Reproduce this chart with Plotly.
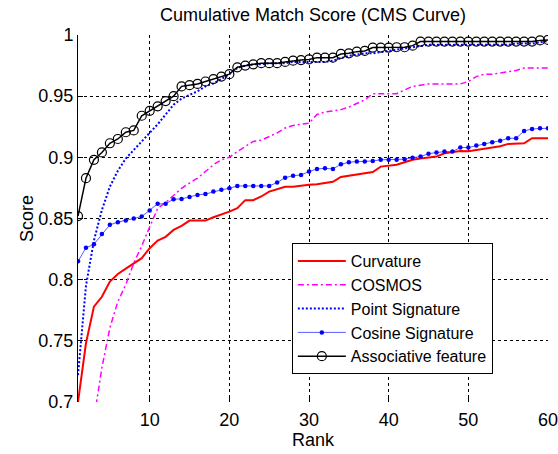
import plotly.graph_objects as go

rank = list(range(1, 61))

curvature = [0.700, 0.748, 0.778, 0.786, 0.7985, 0.8047, 0.809, 0.8135, 0.8176, 0.8257,
             0.832, 0.835, 0.8407, 0.844, 0.8483, 0.8483, 0.8483, 0.851, 0.853, 0.8556,
             0.8584, 0.865, 0.865, 0.868, 0.872, 0.874, 0.876, 0.876, 0.877, 0.8775,
             0.878, 0.879, 0.880, 0.884, 0.885, 0.886, 0.887, 0.888, 0.8924, 0.893,
             0.894, 0.896, 0.898, 0.899, 0.900, 0.9006, 0.9033, 0.904, 0.9052, 0.905,
             0.906, 0.9074, 0.908, 0.909, 0.911, 0.911, 0.9115, 0.9156, 0.9156, 0.9156]

cosmos_rank = list(range(3, 61))
cosmos = [0.686, 0.728, 0.7606, 0.782, 0.796, 0.8135, 0.8276, 0.843,
          0.8584, 0.863, 0.869, 0.8747, 0.879, 0.883, 0.8884, 0.894, 0.898, 0.900,
          0.9047, 0.909, 0.913, 0.914, 0.917, 0.920, 0.924, 0.926, 0.927, 0.928,
          0.935, 0.937, 0.938, 0.939, 0.941, 0.944, 0.947, 0.952, 0.952, 0.952,
          0.952, 0.955, 0.958, 0.959, 0.960, 0.960, 0.960, 0.960, 0.960, 0.962,
          0.966, 0.968, 0.968, 0.969, 0.970, 0.971, 0.973, 0.973, 0.973, 0.973]

point_sig = [0.722, 0.795, 0.832, 0.857, 0.876, 0.889, 0.899, 0.906, 0.913, 0.920,
             0.927, 0.935, 0.943, 0.948, 0.951, 0.954, 0.958, 0.9605, 0.964, 0.968,
             0.973, 0.975, 0.976, 0.976, 0.977, 0.977, 0.977, 0.978, 0.978, 0.978,
             0.978, 0.978, 0.979, 0.981, 0.983, 0.984, 0.985, 0.985, 0.986, 0.987,
             0.988, 0.989, 0.990, 0.991, 0.992, 0.992, 0.992, 0.992, 0.992, 0.992,
             0.992, 0.992, 0.992, 0.992, 0.992, 0.993, 0.993, 0.993, 0.994, 0.995]

cosine_sig = [0.815, 0.826, 0.829, 0.8374, 0.8448, 0.847, 0.8483, 0.850, 0.8516, 0.8565,
              0.862, 0.862, 0.8658, 0.866, 0.8676, 0.8693, 0.870, 0.872, 0.8734, 0.8747,
              0.8766, 0.8766, 0.8766, 0.8766, 0.8766, 0.8794, 0.8834, 0.885, 0.8856, 0.8884,
              0.8905, 0.891, 0.8905, 0.8943, 0.896, 0.8965, 0.8965, 0.897, 0.898, 0.898,
              0.898, 0.8985, 0.8997, 0.9006, 0.903, 0.904, 0.9047, 0.9047, 0.908, 0.908,
              0.9096, 0.911, 0.9124, 0.9135, 0.9156, 0.9156, 0.9216, 0.9232, 0.9238, 0.9238]

associative = [0.852, 0.883, 0.898, 0.904, 0.9115, 0.915, 0.9205, 0.922, 0.934, 0.938,
               0.9417, 0.946, 0.950, 0.958, 0.959, 0.960, 0.962, 0.964, 0.966, 0.968,
               0.9736, 0.975, 0.976, 0.977, 0.977, 0.977, 0.978, 0.979, 0.9795, 0.980,
               0.9815, 0.9815, 0.9815, 0.9845, 0.985, 0.9864, 0.987, 0.9897, 0.9897, 0.9897,
               0.990, 0.990, 0.9913, 0.9946, 0.9946, 0.9946, 0.9946, 0.9946, 0.9946, 0.9946,
               0.9946, 0.9946, 0.9946, 0.9946, 0.9946, 0.9946, 0.9946, 0.9946, 0.9956, 0.996]

x_ticks = [10, 20, 30, 40, 50, 60]
y_ticks = [0.7, 0.75, 0.8, 0.85, 0.9, 0.95, 1.0]
y_tick_labels = ["0.7", "0.75", "0.8", "0.85", "0.9", "0.95", "1"]

FONT = "Liberation Sans, Arial, sans-serif"
FS = 18

fig = go.Figure()
fig.add_trace(go.Scatter(x=rank, y=curvature, mode="lines", name="Curvature",
                         line=dict(color="#ff0000", width=2)))
fig.add_trace(go.Scatter(x=cosmos_rank, y=cosmos, mode="lines", name="COSMOS",
                         line=dict(color="#ff00ff", width=1.5, dash="6px,3px,2px,3px")))
fig.add_trace(go.Scatter(x=rank, y=point_sig, mode="lines", name="Point Signature",
                         line=dict(color="#0000ff", width=2, dash="2px,2px")))
fig.add_trace(go.Scatter(x=rank, y=cosine_sig, mode="lines+markers", name="Cosine Signature",
                         line=dict(color="#5a5aff", width=1),
                         marker=dict(color="#0000ff", size=4.5, symbol="circle")))
fig.add_trace(go.Scatter(x=rank, y=associative, mode="lines+markers", name="Associative feature",
                         line=dict(color="#000000", width=1.5),
                         marker=dict(symbol="circle-open", size=9, color="#000000",
                                     line=dict(width=1.2, color="#000000"))))

fig.update_layout(
    width=558, height=454,
    margin=dict(l=78, r=10, t=35, b=52),
    paper_bgcolor="white", plot_bgcolor="white",
    font=dict(family=FONT, size=FS, color="black"),
    title=dict(text="Cumulative Match Score (CMS Curve)", x=0.5, xanchor="center",
               xref="paper", y=1 - 15 / 454, yanchor="middle",
               font=dict(size=FS, family=FONT, color="black")),
    showlegend=True,
    legend=dict(x=0.455, y=0.433, xanchor="left", yanchor="top",
                bgcolor="white", bordercolor="black", borderwidth=1,
                font=dict(size=16, family=FONT, color="black"),
                tracegroupgap=0, itemwidth=48),
)

fig.update_xaxes(range=[1, 60], tickvals=x_ticks, ticktext=[str(v) for v in x_ticks],
                 showline=False, automargin=False, ticklabeloverflow="allow",
                 ticks="inside", ticklen=5, tickcolor="black", ticklabelstandoff=5,
                 showgrid=True, gridcolor="black", griddash="3px,3px", gridwidth=1,
                 zeroline=False,
                 title=dict(text="Rank", standoff=2, font=dict(size=FS, family=FONT)),
                 tickfont=dict(size=FS, family=FONT))
fig.update_yaxes(range=[0.7, 1.0], tickvals=y_ticks, ticktext=y_tick_labels,
                 showline=True, mirror=False, linecolor="black", linewidth=1,
                 automargin=False, ticklabeloverflow="allow",
                 ticks="inside", ticklen=5, tickcolor="black",
                 showgrid=True, gridcolor="black", griddash="3px,3px", gridwidth=1,
                 zeroline=False,
                 title=dict(text="Score", standoff=0, font=dict(size=FS, family=FONT)),
                 tickfont=dict(size=FS, family=FONT))

fig.write_html("out.html", config={"displayModeBar": False},
               post_script="document.body.style.margin='0px';")
